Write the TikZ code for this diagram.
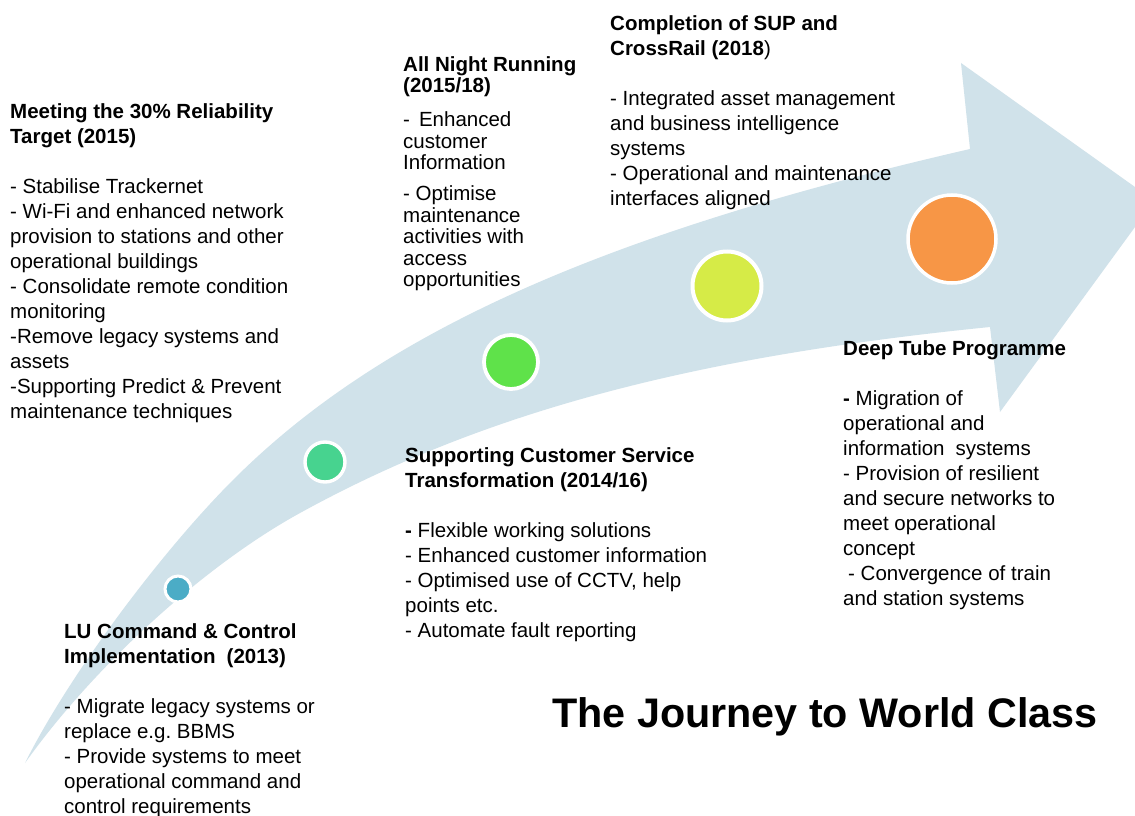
\documentclass[tikz,border=0pt]{standalone}
\usepackage{fontspec}
\setmainfont{Liberation Sans}
\definecolor{band}{HTML}{D0E2EA}
\definecolor{cblue}{HTML}{4BACC6}
\definecolor{cteal}{HTML}{47D38F}
\definecolor{cgreen}{HTML}{5FE24A}
\definecolor{clime}{HTML}{D6EB47}
\definecolor{corange}{HTML}{F79646}
\begin{document}
\begin{tikzpicture}[x=1pt,y=-1pt,
  txt/.style={inner sep=0pt, anchor=north west, align=left, font=\fontsize{20.5}{25}\selectfont},
  txtb/.style={inner sep=0pt, anchor=north west, align=left, font=\fontsize{20.5}{21.5}\selectfont},
  dot/.style={circle, draw=white, inner sep=0pt}]
\useasboundingbox (0,0) rectangle (1135,816);
\fill[white] (0,0) rectangle (1135,816);
% curved arrow band
\fill[band] (25,763) .. controls (70,673) and (163,550) .. (233,480)
  .. controls (379.8,333.2) and (600.9,233.9) .. (970,149)
  -- (961,63) -- (1135,187) -- (1135,227) -- (1000,412) -- (990,327)
  .. controls (689,357.1) and (482,412.9) .. (300,513)
  .. controls (204.6,565.4) and (94.6,665.4) .. (25,763) -- cycle;
% milestones
\node[dot, fill=cblue, line width=3pt, minimum size=26pt] (c1) at (178,589) {};
\node[dot, fill=cteal, line width=3.4pt, minimum size=40pt] (c2) at (325,462) {};
\node[dot, fill=cgreen, line width=3.8pt, minimum size=54pt] (c3) at (511,362) {};
\node[dot, fill=clime, line width=4pt, minimum size=69pt] (c4) at (727,286) {};
\node[dot, fill=corange, line width=3.5pt, minimum size=88pt] (c5) at (952,239) {};
% text blocks
\node[txt] (b1) at (10,100.5) {\strut\textbf{Meeting the 30\% Reliability}\\
\textbf{Target (2015)}\\[25pt]
- Stabilise Trackernet\\
- Wi-Fi and enhanced network\\
provision to stations and other\\
operational buildings\\
- Consolidate remote condition\\
monitoring\\
-Remove legacy systems and\\
assets\\
-Supporting Predict \& Prevent\\
maintenance techniques};
\node[txtb] (b2) at (403,56) {\strut\textbf{All Night Running}\\
\textbf{(2015/18)}\\[12.5pt]
-\hspace{9pt}Enhanced\\
customer\\
Information\\[9.5pt]
- Optimise\\
maintenance\\
activities with\\
access\\
opportunities};
\node[txt] (b3) at (610,12.5) {\strut\textbf{Completion of SUP and}\\
\textbf{CrossRail (2018})\\[25pt]
- Integrated asset management\\
and business intelligence\\
systems\\
- Operational and maintenance\\
interfaces aligned};
\node[txt] (b4) at (843,337.5) {\strut\textbf{Deep Tube Programme}\\[25pt]
\textbf{-} Migration of\\
operational and\\
information\hspace{11pt}systems\\
- Provision of resilient\\
and secure networks to\\
meet operational\\
concept\\
\hspace*{5pt}- Convergence of train\\
and station systems};
\node[txt] (b5) at (405,444.5) {\strut\textbf{Supporting Customer Service}\\
\textbf{Transformation (2014/16)}\\[25pt]
\textbf{-} Flexible working solutions\\
- Enhanced customer information\\
- Optimised use of CCTV, help\\
points etc.\\
- Automate fault reporting};
\node[txt] (b6) at (64,620.5) {\strut\textbf{LU Command \& Control}\\
\textbf{Implementation\hspace{11pt}(2013)}\\[25pt]
- Migrate legacy systems or\\
replace e.g.\ BBMS\\
- Provide systems to meet\\
operational command and\\
control requirements};
\node[inner sep=0pt, anchor=base west, font=\fontsize{41.3}{49}\selectfont\bfseries] (title) at (552,727) {The Journey to World Class};
\end{tikzpicture}
\end{document}
